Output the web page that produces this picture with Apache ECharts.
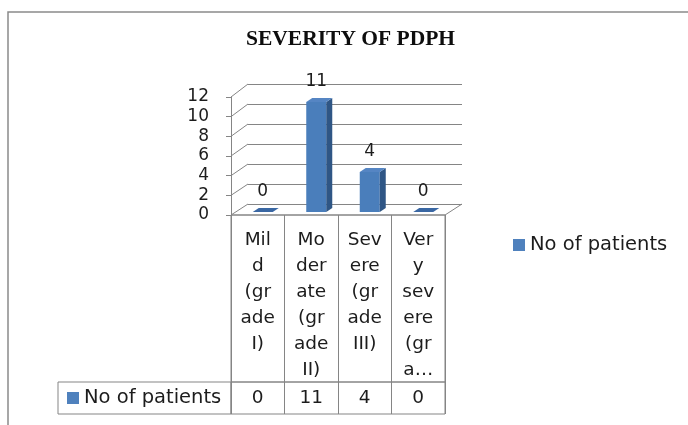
<!DOCTYPE html>
<html>
<head>
<meta charset="utf-8">
<script src="https://cdn.jsdelivr.net/npm/echarts@6/dist/echarts.min.js"></script>
<style>
  html, body { margin: 0; padding: 0; background: #fff; }
  #chart { width: 688px; height: 425px; }
</style>
</head>
<body>
<div id="chart"></div>
<script>
  // data
  var categories = ['Mild (grade I)', 'Moderate (grade II)', 'Severe (grade III)', 'Very severe (grade IV)'];
  // the wrapped text as it shows in the table cells
  var tickLabels = [
    ['Mil', 'd', '(gr', 'ade', 'I)'],
    ['Mo', 'der', 'ate', '(gr', 'ade', 'II)'],
    ['Sev', 'ere', '(gr', 'ade', 'III)'],
    ['Ver', 'y', 'sev', 'ere', '(gr', 'a…']
  ];
  var patients = [0, 11, 4, 0];
  var seriesName = 'No of patients';
  var yMin = 0, yMax = 12, yStep = 2;

  var lineGrey = '#858585';
  var textCol = '#1c1c1c';
  var font = 'DejaVu Sans';
  // 3d look of the bars
  var barW = 20, depthX = 6, depthY = -4;

  var myChart = echarts.init(document.getElementById('chart'));

  function renderBar(params, api) {
    var v = api.value(1);
    var base = api.coord([api.value(0), 0]);
    var top = api.coord([api.value(0), v]);
    var x0 = base[0] - barW / 2, x1 = base[0] + barW / 2;
    return {
      type: 'group',
      children: [
        { type: 'rect', shape: { x: x0, y: top[1], width: barW, height: base[1] - top[1] },
          style: { fill: '#4a7ebb' } },
        { type: 'polygon', shape: { points: [[x1, base[1]], [x1 + depthX, base[1] + depthY], [x1 + depthX, top[1] + depthY], [x1, top[1]]] },
          style: { fill: '#2f5685' } },
        { type: 'polygon', shape: { points: [[x0, top[1]], [x1, top[1]], [x1 + depthX, top[1] + depthY], [x0 + depthX, top[1] + depthY]] },
          style: { fill: v === 0 ? '#3a67a3' : '#5585c3' } },
        { type: 'text', x: base[0], y: top[1] - 20,
          style: { text: String(v), fill: textCol, font: '17px "' + font + '"', align: 'center', verticalAlign: 'middle' } }
      ]
    };
  }

  var options = {
    animation: false,
    title: {
      text: 'SEVERITY OF PDPH',
      left: 246,
      top: 28,
      padding: 0,
      textStyle: { fontFamily: 'Liberation Serif', fontWeight: 'bold', fontSize: 21.5, color: '#0d0d0d' }
    },
    legend: [
      {
        data: [seriesName],
        left: 513, top: 235, padding: 0,
        itemWidth: 12, itemHeight: 12, icon: 'rect',
        textStyle: { fontFamily: font, fontSize: 19.5, color: textCol }
      },
      {
        data: [seriesName],
        left: 67, top: 388, padding: 0,
        itemWidth: 12, itemHeight: 12, icon: 'rect',
        selectedMode: false,
        textStyle: { fontFamily: font, fontSize: 19.5, color: textCol }
      }
    ],
    grid: [
      { left: 231, top: 97, width: 214, height: 118 },   // front: value labels
      { left: 248, top: 84, width: 214, height: 120 },   // back wall gridlines
      { left: 236, top: 92, width: 214, height: 120 },   // bars
      { left: 231, top: 215, width: 214, height: 167, show: true, borderColor: lineGrey, borderWidth: 1 },  // table header
      { left: 231, top: 382, width: 214, height: 32, show: true, borderColor: lineGrey, borderWidth: 1 },   // table values
      { left: 58, top: 382, width: 173, height: 32, show: true, borderColor: lineGrey, borderWidth: 1 }     // row name
    ],
    xAxis: [
      { gridIndex: 0, type: 'category', data: categories, show: false },
      { gridIndex: 1, type: 'category', data: categories, show: false },
      { gridIndex: 2, type: 'category', data: categories, show: false },
      {
        gridIndex: 3, type: 'category', data: categories, position: 'top',
        axisLine: { show: false }, axisTick: { show: false },
        axisLabel: {
          inside: true, interval: 0, margin: 12, verticalAlign: 'top', align: 'center',
          fontFamily: font, fontSize: 18.5, lineHeight: 26, color: textCol,
          formatter: function (val, idx) { return tickLabels[idx].join('\n'); }
        },
        splitLine: { show: true, interval: 0, lineStyle: { color: lineGrey, width: 1 } }
      },
      {
        gridIndex: 4, type: 'category', data: categories, position: 'bottom',
        axisLine: { show: false }, axisTick: { show: false },
        axisLabel: {
          inside: true, interval: 0, margin: 16, verticalAlign: 'middle',
          fontFamily: font, fontSize: 18.5, color: textCol,
          formatter: function (val, idx) { return String(patients[idx]); }
        },
        splitLine: { show: true, interval: 0, lineStyle: { color: lineGrey, width: 1 } }
      },
      { gridIndex: 5, type: 'value', show: false }
    ],
    yAxis: [
      {
        gridIndex: 0, type: 'value', min: yMin, max: yMax, interval: yStep,
        axisLine: { show: true, lineStyle: { color: lineGrey } },
        axisTick: { show: true, length: 5, lineStyle: { color: lineGrey } },
        splitLine: { show: false },
        axisLabel: { margin: 22, fontFamily: font, fontSize: 17, color: textCol }
      },
      {
        gridIndex: 1, type: 'value', min: yMin, max: yMax, interval: yStep,
        axisLine: { show: false }, axisTick: { show: false }, axisLabel: { show: false },
        splitLine: { show: true, lineStyle: { color: lineGrey, width: 1 } }
      },
      { gridIndex: 2, type: 'value', min: yMin, max: yMax, show: false, splitLine: { show: false } },
      { gridIndex: 3, type: 'value', show: false, splitLine: { show: false } },
      { gridIndex: 4, type: 'value', show: false, splitLine: { show: false } },
      { gridIndex: 5, type: 'value', show: false, splitLine: { show: false } }
    ],
    series: [
      {
        name: seriesName,
        type: 'custom',
        xAxisIndex: 2,
        yAxisIndex: 2,
        itemStyle: { color: '#4f81bd' },
        renderItem: renderBar,
        encode: { x: 0, y: 1 },
        data: patients.map(function (v, i) { return [i, v]; })
      }
    ]
  };

  myChart.setOption(options);

  // wall and floor edges, taken from the two value axes
  function wallLines() {
    var frontLeft = 231, backLeft = 248, frontRight = 445, backRight = 462;
    var items = [];
    for (var v = yMin; v <= yMax; v += yStep) {
      var yf = myChart.convertToPixel({ yAxisIndex: 0 }, v);
      var yb = myChart.convertToPixel({ yAxisIndex: 1 }, v);
      items.push({ type: 'line', shape: { x1: frontLeft, y1: yf, x2: backLeft, y2: yb },
        style: { stroke: lineGrey, lineWidth: 1 }, silent: true });
    }
    var f0 = myChart.convertToPixel({ yAxisIndex: 0 }, 0);
    var b0 = myChart.convertToPixel({ yAxisIndex: 1 }, 0);
    items.push({ type: 'polyline', shape: { points: [[frontLeft, f0], [frontRight, f0], [backRight, b0]] },
      style: { stroke: lineGrey, lineWidth: 1, fill: null }, silent: true });
    // outer frame of the chart area
    items.push({ type: 'rect', shape: { x: 8, y: 12, width: 720, height: 440 },
      style: { stroke: '#8a8a8a', lineWidth: 1.5, fill: null }, silent: true, z: -1 });
    return items;
  }

  myChart.setOption({ graphic: wallLines() });
</script>
</body>
</html>
